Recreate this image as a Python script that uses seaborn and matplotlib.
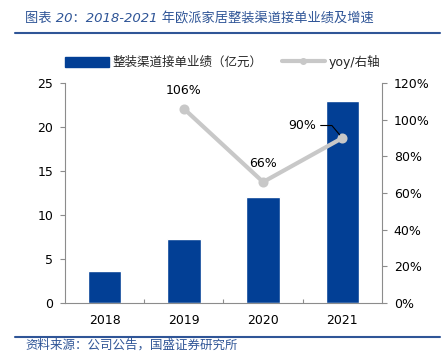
import numpy as np
import pandas as pd
import matplotlib
matplotlib.use("Agg")
import matplotlib.pyplot as plt
import seaborn as sns
from matplotlib.patches import Patch
from matplotlib.lines import Line2D

# data
years = ["2018", "2019", "2020", "2021"]
orders = [3.6, 7.3, 12.1, 22.9]        # 整装渠道接单业绩（亿元）
yoy = [np.nan, 106, 66, 90]             # yoy, %
yoy_labels = ["", "106%", "66%", "90%"]

bar_color = "#023f95"
line_color = "#c8c8c8"
axis_color = "#8c8c8c"
title_color = "#2f5597"

sns.set_theme(style="white")
plt.rcParams["font.family"] = ["DejaVu Sans", "Noto Sans CJK SC"]

df = pd.DataFrame({"year": years, "orders": orders, "yoy": yoy})

fig = plt.figure(figsize=(4.46, 3.63), dpi=100)
ax = fig.add_axes([0.1457, 0.1653, 0.7108, 0.606])

sns.barplot(data=df, x="year", y="orders", color=bar_color, width=0.42,
            saturation=1, ax=ax)
ax.set_ylim(0, 25)
ax.set_yticks(range(0, 26, 5))
ax.set_xlim(-0.5, 3.5)
ax.set_xlabel("")
ax.set_ylabel("")

ax2 = ax.twinx()
sns.pointplot(data=df, x="year", y="yoy", color=line_color, markers="o",
              markersize=5, linewidth=3, ax=ax2)
ax2.set_ylim(0, 120)
ax2.set_yticks(range(0, 121, 20))
ax2.set_yticklabels([f"{v}%" for v in range(0, 121, 20)])
ax2.set_xlim(-0.5, 3.5)
ax2.set_ylabel("")
ax2.set_xlabel("")

# data labels
for i, (v, lab) in enumerate(zip(yoy, yoy_labels)):
    if not lab:
        continue
    if i == 3:
        ax2.annotate(lab, xy=(i, v), xytext=(-19, 9), textcoords="offset points",
                     ha="right", va="center", fontsize=9, color="black",
                     arrowprops=dict(arrowstyle="-", color="black", lw=0.8,
                                     shrinkA=1, shrinkB=3,
                                     connectionstyle="angle,angleA=0,angleB=130,rad=0"))
    else:
        ax2.annotate(lab, xy=(i, v), xytext=(0, 13), textcoords="offset points",
                     ha="center", va="center", fontsize=9, color="black")

# spines and ticks
for a in (ax, ax2):
    for s in a.spines.values():
        s.set_visible(False)
ax.spines["left"].set_visible(True)
ax.spines["bottom"].set_visible(True)
ax2.spines["right"].set_visible(True)
for s in (ax.spines["left"], ax.spines["bottom"], ax2.spines["right"]):
    s.set_color(axis_color)
    s.set_linewidth(0.8)

ax.tick_params(axis="y", direction="out", length=3.5, width=0.8, color=axis_color,
               pad=5, labelsize=9, labelcolor="black", left=True)
ax2.tick_params(axis="y", direction="out", length=3.5, width=0.8, color=axis_color,
                pad=5, labelsize=9, labelcolor="black", right=True)
ax.tick_params(axis="x", length=0, pad=8, labelsize=9, labelcolor="black")
ax.set_xticks([0.5, 1.5, 2.5], minor=True)
ax.tick_params(axis="x", which="minor", direction="in", length=3, width=0.8,
               color=axis_color, bottom=True)
ax.grid(False)
ax2.grid(False)

# legend
handles = [Patch(facecolor=bar_color, edgecolor=bar_color),
           Line2D([0], [0], color=line_color, lw=3, marker="o", markersize=4)]
fig.legend(handles, ["整装渠道接单业绩（亿元）", "yoy/右轴"], loc="center",
           bbox_to_anchor=(0.5, 0.829), ncol=2, frameon=False, fontsize=9,
           handlelength=3.5, handleheight=0.9, columnspacing=1.5, handletextpad=0.3)

# title and source
fig.text(0.056, 0.948, "图表 20：2018-2021 年欧派家居整装渠道接单业绩及增速",
         fontsize=9.5, color=title_color, fontstyle="italic",
         va="center", ha="left")
fig.add_artist(Line2D([0.034, 0.987], [0.909, 0.909], color=title_color, lw=1.5))
fig.add_artist(Line2D([0.034, 0.987], [0.072, 0.072], color=title_color, lw=1.5))
fig.text(0.056, 0.048, "资料来源：公司公告，国盛证券研究所", fontsize=9,
         color=title_color, fontstyle="italic", va="center", ha="left")

fig.savefig("out.png", dpi=100)
